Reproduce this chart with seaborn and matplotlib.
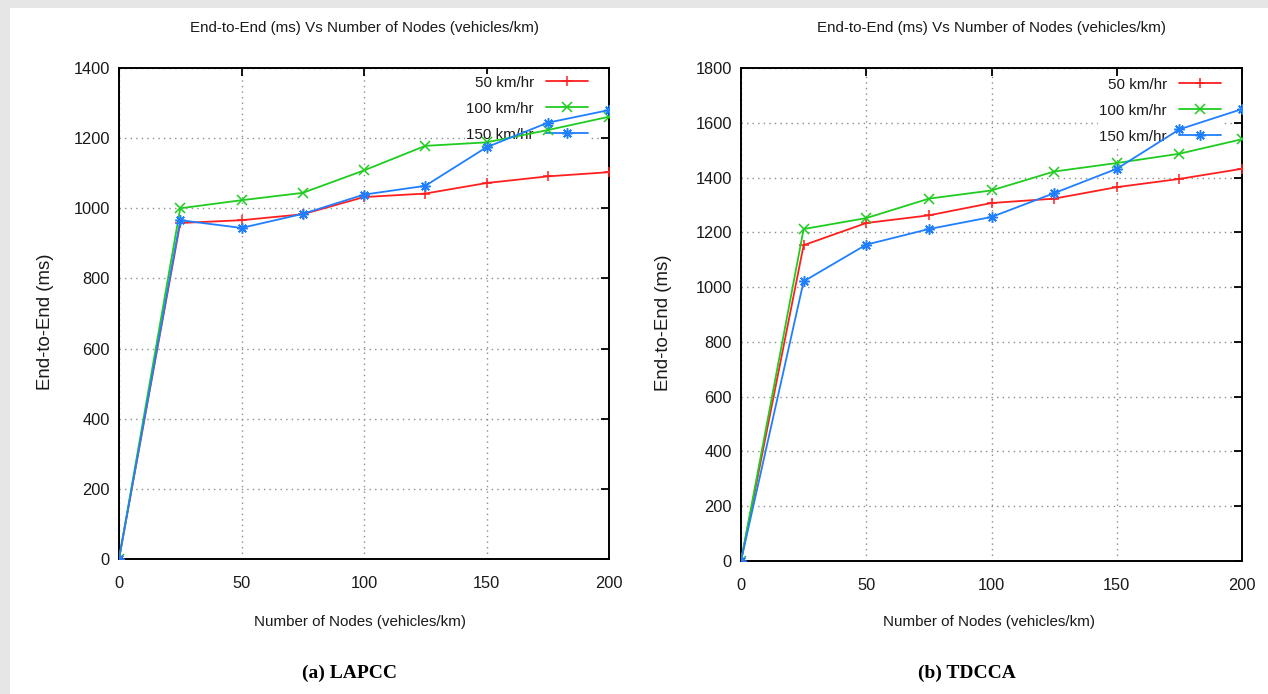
import matplotlib
matplotlib.use("Agg")
import matplotlib.pyplot as plt
import pandas as pd
import seaborn as sns
from matplotlib import font_manager as fm
from matplotlib.patches import Rectangle

# ---------------- data ----------------
nodes = [0, 25, 50, 75, 100, 125, 150, 175, 200]
speeds = ["50 km/hr", "100 km/hr", "150 km/hr"]

lapcc_50 = [0, 958, 966, 983, 1032, 1042, 1072, 1091, 1103]
lapcc_100 = [0, 1000, 1023, 1044, 1108, 1178, 1188, 1223, 1261]
lapcc_150 = [0, 966, 944, 984, 1039, 1064, 1174, 1244, 1280]

tdcca_50 = [0, 1153, 1234, 1262, 1307, 1323, 1365, 1395, 1432]
tdcca_100 = [0, 1212, 1252, 1323, 1353, 1422, 1453, 1487, 1540]
tdcca_150 = [0, 1021, 1155, 1212, 1256, 1343, 1432, 1576, 1650]

x_ticks = [0, 50, 100, 150, 200]
y_ticks_a = [0, 200, 400, 600, 800, 1000, 1200, 1400]
y_ticks_b = [0, 200, 400, 600, 800, 1000, 1200, 1400, 1600, 1800]

title_text = "End-to-End (ms) Vs Number of Nodes (vehicles/km)"
xlabel_text = "Number of Nodes (vehicles/km)"
ylabel_text = "End-to-End (ms)"
captions = ["(a) LAPCC", "(b) TDCCA"]

colors = {"50 km/hr": "#ff1f1f", "100 km/hr": "#1fcc1f", "150 km/hr": "#1f7fff"}
markers = {"50 km/hr": "+", "100 km/hr": "x", "150 km/hr": (8, 2, 0)}


def make_df(s50, s100, s150):
    rows = []
    for name, vals in zip(speeds, [s50, s100, s150]):
        for n, v in zip(nodes, vals):
            rows.append({"nodes": n, "delay": v, "speed": name})
    return pd.DataFrame(rows)


df_a = make_df(lapcc_50, lapcc_100, lapcc_150)
df_b = make_df(tdcca_50, tdcca_100, tdcca_150)

# ---------------- style ----------------
sns.set_style("white")
names = {f.name for f in fm.fontManager.ttflist}
if "Liberation Sans Narrow" in names:
    fam, k = "Liberation Sans Narrow", 1.0
else:
    fam, k = "Liberation Sans", 0.84
plt.rcParams["font.family"] = [fam, "DejaVu Sans"]
txt_col = "#1a1a1a"

W, H = 1268, 694
fig = plt.figure(figsize=(W / 100, H / 100), dpi=100)
fig.patch.set_facecolor("#e6e6e6")
fig.patches.append(Rectangle((10 / W, 0), 1 - 10 / W, 1 - 8 / H,
                             transform=fig.transFigure, facecolor="white",
                             edgecolor="none", zorder=-5))

panels = [
    dict(df=df_a, box=(119, 609, 68, 559), ymax=1400, yt=y_ticks_a,
         leg=(590, 74), xl=(360, 622), yl=(45, 322), cap=(350, 673)),
    dict(df=df_b, box=(741, 1242, 68, 561), ymax=1800, yt=y_ticks_b,
         leg=(1223, 76), xl=(989, 622), yl=(663, 323), cap=(967, 673)),
]

for i, p in enumerate(panels):
    x0, x1, yt_, yb = p["box"]
    aw, ah = x1 - x0, yb - yt_
    ax = fig.add_axes([x0 / W, (H - yb) / H, aw / W, ah / H])
    sns.lineplot(data=p["df"], x="nodes", y="delay", hue="speed", style="speed",
                 hue_order=speeds, style_order=speeds, palette=colors,
                 markers=markers, dashes=False, legend=False, ax=ax,
                 linewidth=1.3, markersize=7.5, zorder=3)
    for ln in ax.lines:
        ln.set_markeredgecolor(ln.get_color())
        ln.set_markeredgewidth(1.1)

    ax.set_xlim(0, 200)
    ax.set_ylim(0, p["ymax"])
    ax.set_xticks(x_ticks)
    ax.set_yticks(p["yt"])
    ax.grid(True, linestyle=(0, (1, 3)), color="#8c8c8c", linewidth=1.0)
    ax.set_axisbelow(True)
    for sp in ax.spines.values():
        sp.set_color("black")
        sp.set_linewidth(1.4)
    ax.tick_params(axis="both", direction="in", length=6, width=1.3,
                   top=True, right=True, labelsize=14 * k, labelcolor=txt_col,
                   colors="black")
    ax.tick_params(axis="y", pad=6.5)
    ax.tick_params(axis="x", pad=12.5)
    for lab in ax.get_xticklabels() + ax.get_yticklabels():
        lab.set_color(txt_col)

    ax.set_title(title_text, fontsize=13 * k, color=txt_col, pad=0,
                 y=1 + (yt_ - 28) / ah, va="center")

    ax.set_xlabel(xlabel_text, fontsize=13 * k, color=txt_col)
    ax.xaxis.set_label_coords((p["xl"][0] - x0) / aw, (yb - p["xl"][1]) / ah)
    ax.xaxis.label.set_va("center")
    ax.set_ylabel(ylabel_text, fontsize=16 * k, color=txt_col)
    ax.yaxis.set_label_coords((p["yl"][0] - x0) / aw, (yb - p["yl"][1]) / ah)
    ax.yaxis.label.set_va("center")
    ax.yaxis.label.set_ha("center")

    handles = ax.lines[:3]
    leg = ax.legend(handles, speeds, loc="upper right",
                    bbox_to_anchor=((p["leg"][0] - x0) / aw,
                                    1 - (p["leg"][1] - yt_) / ah),
                    markerfirst=False, frameon=True, fancybox=False,
                    facecolor="white", edgecolor="none", framealpha=1,
                    borderpad=0.1, borderaxespad=0, handlelength=2.8,
                    handletextpad=0.8, labelspacing=0.8, numpoints=1,
                    fontsize=13 * k)
    for t in leg.get_texts():
        t.set_color(txt_col)
    leg.set_zorder(1.5)

    fig.text(p["cap"][0] / W, (H - p["cap"][1]) / H, captions[i],
             ha="center", va="center", family="Liberation Serif",
             weight="bold", fontsize=14, color="black")

fig.savefig("out.png", dpi=100, facecolor=fig.get_facecolor())
